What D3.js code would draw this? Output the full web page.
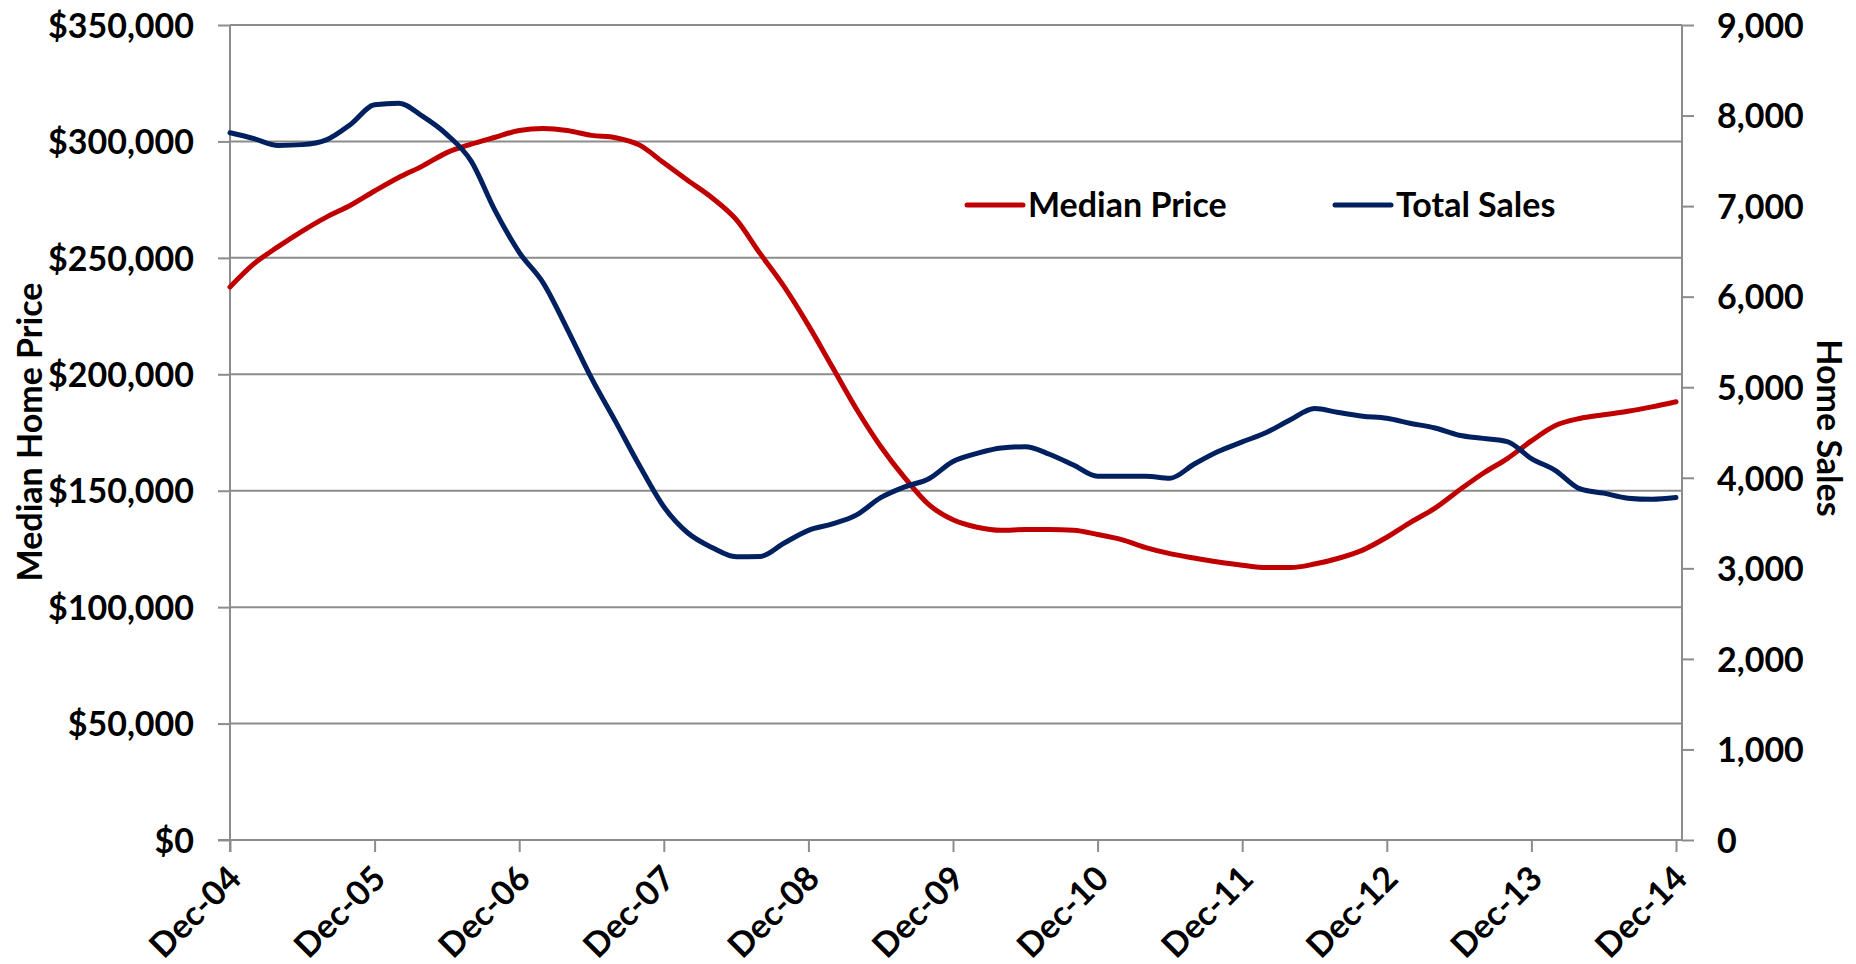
<!DOCTYPE html>
<html>
<head>
<meta charset="utf-8">
<script src="https://cdn.jsdelivr.net/npm/d3@7"></script>
<style>
  html, body { margin: 0; padding: 0; background: #fff; }
  svg { display: block; }
  text { font-family: Lato, "Open Sans", sans-serif; font-weight: 700; fill: #000; }
</style>
</head>
<body>
<svg id="chart" width="1856" height="964"></svg>
<script>
// ---- Data (month offsets from Dec-04) ----
const months = [0,2,4,6,8,10,12,14,16,18,20,22,24,26,28,30,32,34,36,38,40,42,44,46,48,50,52,54,56,58,60,62,64,66,68,70,72,74,76,78,80,82,84,86,88,90,92,94,96,98,100,102,104,106,108,110,112,114,116,118,120];
const medianPrice = [237500,247500,254800,261500,267500,272600,278700,284500,289500,295200,298800,301800,304700,305600,304700,302600,301600,298400,290800,283200,275800,266500,251800,237500,221000,203000,185000,169000,155500,144000,137500,134300,133000,133300,133300,133000,131200,129000,125600,123000,121100,119400,118000,117000,117000,118500,121000,124500,130000,136500,142500,150200,157500,163800,171400,178000,181000,182600,184100,186000,188200];
const totalSales = [7810,7745,7670,7679,7732,7902,8120,8137,7990,7790,7500,6950,6489,6150,5640,5100,4620,4130,3680,3390,3230,3127,3130,3280,3420,3490,3590,3780,3900,3990,4180,4270,4330,4343,4260,4140,4016,4016,4016,3995,4150,4290,4396,4500,4640,4765,4720,4680,4657,4600,4550,4470,4435,4400,4212,4080,3880,3830,3775,3762,3781];
const xTickMonths = [0,12,24,36,48,60,72,84,96,108,120];
const xTickLabels = ["Dec-04","Dec-05","Dec-06","Dec-07","Dec-08","Dec-09","Dec-10","Dec-11","Dec-12","Dec-13","Dec-14"];
const priceTicks = [0,50000,100000,150000,200000,250000,300000,350000];
const salesTicks = [0,1000,2000,3000,4000,5000,6000,7000,8000,9000];
const seriesNames = ["Median Price","Total Sales"];
const axisTitles = ["Median Home Price","Home Sales"];

// ---- Layout ----
const pLeft = 230, pRight = 1682, pTop = 25, pBottom = 840;
const gridColor = "#8c8c8c";
const colors = ["#c00000", "#002060"];
const fontSize = 34;

const svg = d3.select("#chart");

const x = d3.scaleLinear().domain([0, 120]).range([pLeft, 1676]);
const yL = d3.scaleLinear().domain([0, 350000]).range([pBottom, pTop]);
const yR = d3.scaleLinear().domain([0, 9000]).range([pBottom, pTop]);

// gridlines
svg.append("g").selectAll("line").data(priceTicks.filter(d => d > 0)).join("line")
  .attr("x1", pLeft).attr("x2", pRight)
  .attr("y1", d => yL(d)).attr("y2", d => yL(d))
  .attr("stroke", gridColor).attr("stroke-width", 2);

// left axis
const fmtPrice = d => "$" + d3.format(",")(d);
const gL = svg.append("g").attr("transform", `translate(${pLeft},0)`)
  .call(d3.axisLeft(yL).tickValues(priceTicks).tickFormat(fmtPrice).tickSize(12).tickPadding(24));
gL.select(".domain").attr("stroke", gridColor).attr("stroke-width", 2).attr("d", `M0,${pTop}V${pBottom + 12}`);
gL.selectAll(".tick line").attr("stroke", gridColor).attr("stroke-width", 2);
gL.selectAll(".tick text").style("font-size", fontSize + "px").attr("dy", "0.36em");

// right axis
const gR = svg.append("g").attr("transform", `translate(${pRight},0)`)
  .call(d3.axisRight(yR).tickValues(salesTicks).tickFormat(d3.format(",")).tickSize(12).tickPadding(23));
gR.select(".domain").attr("stroke", gridColor).attr("stroke-width", 2).attr("d", `M0,${pTop}V${pBottom}`);
gR.selectAll(".tick line").attr("stroke", gridColor).attr("stroke-width", 2);
gR.selectAll(".tick text").style("font-size", fontSize + "px").attr("dy", "0.36em");

// bottom axis
const gB = svg.append("g").attr("transform", `translate(0,${pBottom})`)
  .call(d3.axisBottom(x).tickValues(xTickMonths).tickFormat((d, i) => xTickLabels[i]).tickSize(12).tickPadding(0));
gB.select(".domain").attr("stroke", gridColor).attr("stroke-width", 2).attr("d", `M${pLeft - 12},0H${pRight}`);
gB.selectAll(".tick line").attr("stroke", gridColor).attr("stroke-width", 2);
gB.selectAll(".tick text")
  .style("font-size", fontSize + "px")
  .attr("text-anchor", "end")
  .attr("dy", "0.36em")
  .attr("y", 0)
  .attr("transform", "translate(4,32) rotate(-45)");

// lines
const lineL = d3.line().x((d, i) => x(months[i])).y(d => yL(d)).curve(d3.curveMonotoneX);
const lineR = d3.line().x((d, i) => x(months[i])).y(d => yR(d)).curve(d3.curveMonotoneX);

svg.append("path").datum(medianPrice).attr("d", lineL)
  .attr("fill", "none").attr("stroke", colors[0]).attr("stroke-width", 5)
  .attr("stroke-linejoin", "round").attr("stroke-linecap", "round");
svg.append("path").datum(totalSales).attr("d", lineR)
  .attr("fill", "none").attr("stroke", colors[1]).attr("stroke-width", 5)
  .attr("stroke-linejoin", "round").attr("stroke-linecap", "round");

// axis titles
svg.append("text").attr("transform", "translate(30,432) rotate(-90)")
  .attr("text-anchor", "middle").attr("dy", "0.36em")
  .style("font-size", fontSize + "px").text(axisTitles[0]);
svg.append("text").attr("transform", "translate(1829,428) rotate(90)")
  .attr("text-anchor", "middle").attr("dy", "0.36em")
  .style("font-size", fontSize + "px").text(axisTitles[1]);

// legend
const legendX = [967, 1335];
const lg = svg.append("g");
seriesNames.forEach((name, i) => {
  lg.append("line").attr("x1", legendX[i]).attr("x2", legendX[i] + 56)
    .attr("y1", 205).attr("y2", 205)
    .attr("stroke", colors[i]).attr("stroke-width", 5).attr("stroke-linecap", "round");
  lg.append("text").attr("x", legendX[i] + 61).attr("y", 205).attr("dy", "0.36em")
    .style("font-size", fontSize + "px").text(name);
});
</script>
</body>
</html>
